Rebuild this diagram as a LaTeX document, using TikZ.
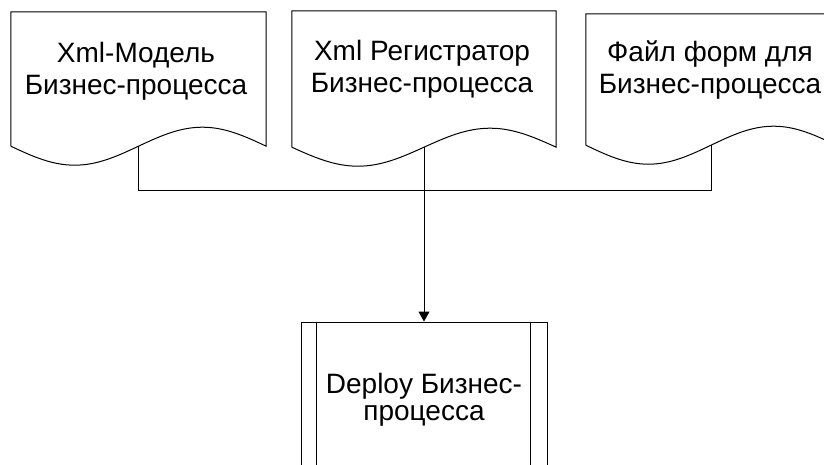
\documentclass[tikz,border=0pt]{standalone}
\usepackage{fontspec}
\setmainfont{Liberation Sans}
\usetikzlibrary{calc,arrows.meta}

\tikzset{
  docbox/.style={shape=rectangle, inner sep=0pt},
  doctext/.style={align=center, inner sep=0pt, font=\fontsize{28}{32}\selectfont},
  procbox/.style={draw, shape=rectangle, inner sep=0pt, line width=1pt,
                  align=center, font=\fontsize{28}{27}\selectfont},
  outline/.style={line width=1pt, line join=miter},
  wire/.style={line width=1pt},
  flow/.style={line width=1pt, -{Triangle[length=10pt,width=11pt]}},
}

% Document symbol: flat top, sides, and a one-period wave along the bottom
\newcommand\docoutline[1]{%
  \draw[outline] (#1.south west) -- (#1.north west) -- (#1.north east) -- (#1.south east)
    sin ($(#1.south)!.5!(#1.south east)+(0,-19)$)
    cos (#1.south)
    sin ($(#1.south)!.5!(#1.south west)+(0,19)$)
    cos (#1.south west);}

\begin{document}
\begin{tikzpicture}[x=1pt,y=-1pt]
  \useasboundingbox (0,0) rectangle (824,465);
  \clip (0,0) rectangle (824,465);

  % documents
  \node[docbox, minimum width=255pt, minimum height=134pt] (model) at (138.5,79) {};
  \node[docbox, minimum width=264pt, minimum height=136pt] (reg)   at (424,79)   {};
  \node[docbox, minimum width=250pt, minimum height=131pt] (forms) at (711,79.5) {};
  \docoutline{model}
  \docoutline{reg}
  \docoutline{forms}

  \node[doctext] (model-t) at (136,71.5) {Xml-Модель\\Бизнес-процесса};
  \node[doctext] (reg-t)   at (422,69.5) {Xml Регистратор\\Бизнес-процесса};
  \node[doctext] (forms-t) at (710,70)   {Файл форм для\\Бизнес-процесса};

  % predefined process
  \node[procbox, minimum width=246pt, minimum height=155pt] (deploy) at (424,399.5)
       {Deploy Бизнес-\\процесса};
  \draw[wire] ($(deploy.north west)+(16,0)$) -- ($(deploy.south west)+(16,0)$);
  \draw[wire] ($(deploy.north east)+(-17,0)$) -- ($(deploy.south east)+(-17,0)$);

  % connectors
  \coordinate (join) at (424,191);
  \draw[wire] (model.south) |- (join);
  \draw[wire] (forms.south) |- (join);
  \draw[wire] (reg.south) -- (join);
  \draw[flow] (join) -- (deploy.north);
\end{tikzpicture}
\end{document}
